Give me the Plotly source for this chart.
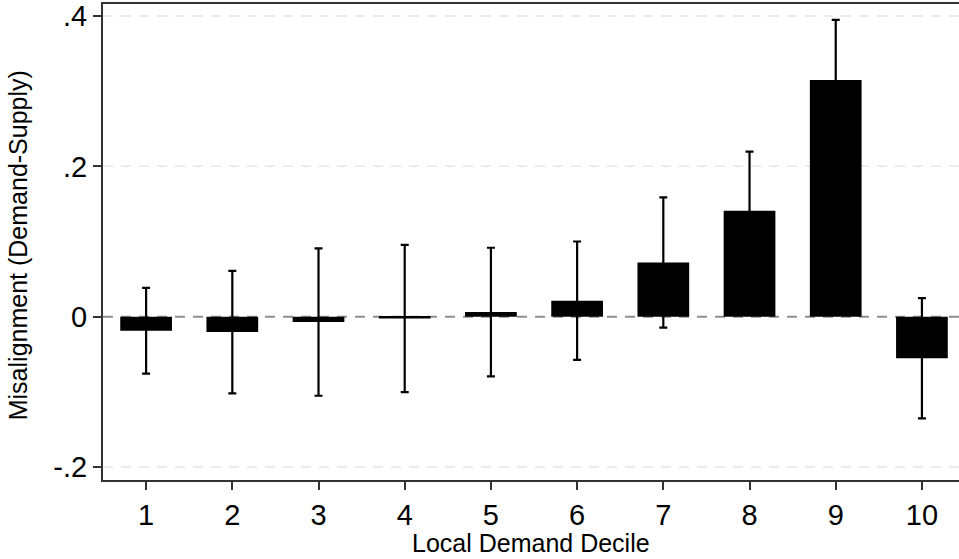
import plotly.graph_objects as go

deciles = [1, 2, 3, 4, 5, 6, 7, 8, 9, 10]
misalignment = [-0.0188, -0.0205, -0.0072, -0.0025, 0.0062, 0.0213, 0.0720, 0.1410, 0.3150, -0.0553]
ci_half = [0.0570, 0.0815, 0.0980, 0.0980, 0.0855, 0.0787, 0.0867, 0.0786, 0.0800, 0.0800]

y_tickvals = [-0.2, 0, 0.2, 0.4]
y_ticktext = ["-.2", "0", ".2", ".4"]

fig = go.Figure()
fig.add_trace(go.Bar(
    x=deciles, y=misalignment, width=0.6,
    marker=dict(color="black", line=dict(width=0)),
    error_y=dict(type="data", array=ci_half, symmetric=True,
                 color="black", thickness=2.2, width=4),
))

for v in y_tickvals:
    if v == 0:
        fig.add_shape(type="line", xref="paper", x0=0, x1=1, yref="y", y0=v, y1=v,
                      line=dict(color="#8f8f8f", width=2, dash="10px,8px"), layer="below")
    else:
        fig.add_shape(type="line", xref="paper", x0=0, x1=1, yref="y", y0=v, y1=v,
                      line=dict(color="#e6e6e6", width=1.5, dash="10px,8px"), layer="below")

fig.add_annotation(text="Local Demand Decile", xref="paper", yref="paper",
                   x=0.5, y=-0.1324, xanchor="center", yanchor="middle",
                   showarrow=False, font=dict(size=25))
fig.add_annotation(text="Misalignment (Demand-Supply)", xref="paper", yref="paper",
                   x=-0.099, y=0.4937, xanchor="center", yanchor="middle",
                   textangle=-90, showarrow=False, font=dict(size=25))

fig.update_layout(
    width=959, height=559,
    margin=dict(l=103, r=0, t=4, b=79, autoexpand=False),
    paper_bgcolor="white", plot_bgcolor="white",
    showlegend=False,
    font=dict(family="Liberation Sans, Arial, Helvetica, sans-serif", color="black"),
    xaxis=dict(
        range=[0.5, 10.43], tickvals=deciles, ticktext=[str(d) for d in deciles],
        showgrid=False, zeroline=False, automargin=False,
        showline=True, linecolor="#333333", linewidth=2, mirror=True,
        ticks="outside", ticklen=8, tickwidth=1.5, tickcolor="#333333",
        tickfont=dict(size=29),
    ),
    yaxis=dict(
        range=[-0.2173, 0.416], tickvals=y_tickvals, ticktext=y_ticktext,
        showgrid=False, zeroline=False, automargin=False,
        showline=True, linecolor="#333333", linewidth=2,
        ticks="outside", ticklen=8, tickwidth=1.5, tickcolor="#333333",
        tickfont=dict(size=29),
    ),
)

fig.write_html("out.html", config={"displayModeBar": False},
               post_script="document.body.style.margin='0';")
